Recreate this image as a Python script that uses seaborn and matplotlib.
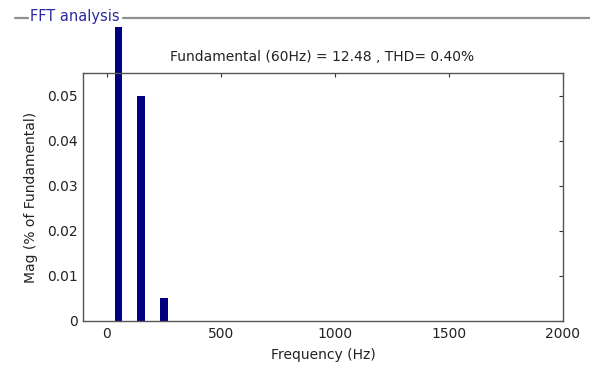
import matplotlib
matplotlib.use("Agg")
import matplotlib.pyplot as plt
import seaborn as sns
import pandas as pd
from matplotlib.lines import Line2D

freq_hz = [50, 150, 250]
mag_pct = [0.0653, 0.050, 0.005]
x_ticks = [0, 500, 1000, 1500, 2000]
y_ticks = [0, 0.01, 0.02, 0.03, 0.04, 0.05]
y_tick_labels = ["0", "0.01", "0.02", "0.03", "0.04", "0.05"]
title_text = "Fundamental (60Hz) = 12.48 , THD= 0.40%"
panel_text = "FFT analysis"

sns.set_theme(style="white")
plt.rcParams["font.family"] = ["DejaVu Sans"]

W, H = 590, 365
fig = plt.figure(figsize=(W / 100, H / 100), dpi=100)
ax = fig.add_axes([83 / W, 1 - 321 / H, (563 - 83) / W, (321 - 73) / H])

df = pd.DataFrame({"f": freq_hz, "m": mag_pct})
sns.barplot(data=df, x="f", y="m", native_scale=True, width=0.33,
            color="#000080", saturation=1, ax=ax, errorbar=None)
for p in ax.patches:
    p.set_clip_on(False)
    p.set_edgecolor("none")

ax.set_xlim(-105, 2000)
ax.set_ylim(0, 0.0551)
ax.set_xticks(x_ticks)
ax.set_xticklabels([str(t) for t in x_ticks])
ax.set_yticks(y_ticks)
ax.set_yticklabels(y_tick_labels)
ax.tick_params(direction="in", length=3, width=0.8, top=True, right=True,
               labelsize=10, colors="#333333", labelcolor="#222222", pad=4)
for s in ax.spines.values():
    s.set_color("#555555")
    s.set_linewidth(1.0)
ax.set_xlabel("Frequency (Hz)", fontsize=10, color="#222222", labelpad=5)
ax.set_ylabel("Mag (% of Fundamental)", fontsize=10, color="#222222", labelpad=6)
ax.set_facecolor("white")

fig.text(322 / W, 1 - 57 / H, title_text, ha="center", va="center",
         fontsize=10, color="#222222")

# panel header line
fig.add_artist(Line2D([15 / W, 28 / W], [1 - 17.5 / H] * 2, color="#909090", lw=1.6))
fig.add_artist(Line2D([123 / W, 1.0], [1 - 17.5 / H] * 2, color="#909090", lw=1.6))
fig.text(30 / W, 1 - 16 / H, panel_text, ha="left", va="center",
         fontsize=10.5, color="#2a2aa0")

fig.savefig("out.png", dpi=100, facecolor="white")
